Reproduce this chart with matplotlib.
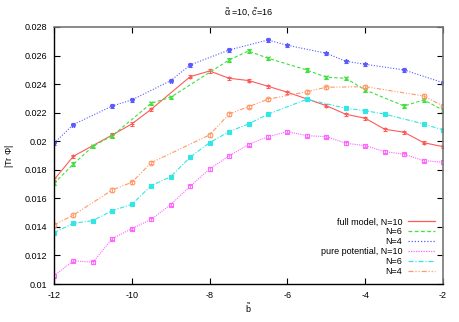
import matplotlib
matplotlib.use('Agg')
import matplotlib.pyplot as plt
from matplotlib.lines import Line2D

plt.rcParams['font.family'] = ['Liberation Sans', 'DejaVu Sans']
plt.rcParams['font.size'] = 6.5
plt.rcParams['mathtext.fontset'] = 'custom'
plt.rcParams['mathtext.rm'] = 'Liberation Sans'
plt.rcParams['mathtext.it'] = 'Liberation Sans'

# full model
b_full10 = [-12, -11.5, -10.5, -10, -9.5, -8.5, -8, -7.5, -7, -6.5, -6, -5, -4.5, -4, -3.5, -3, -2.5, -2]
tr_full10 = [0.0173, 0.01895, 0.02044, 0.02121, 0.02224, 0.02452, 0.02492, 0.02441, 0.02425,
             0.02385, 0.02343, 0.02249, 0.02189, 0.02161, 0.02084, 0.02063, 0.0199, 0.01962]
b_full6 = [-12, -11.5, -11, -10.5, -9.5, -9, -7.5, -7, -6.5, -5.5, -5, -4.5, -4, -3, -2.5, -2]
tr_full6 = [0.01705, 0.0184, 0.01965, 0.02038, 0.02266, 0.02308, 0.02569, 0.02632, 0.02581,
            0.02499, 0.02448, 0.02441, 0.02359, 0.02247, 0.02289, 0.02219]
b_full4 = [-12, -11.5, -10.5, -10, -9, -8.5, -7.5, -6.5, -6, -5, -4.5, -4, -3, -2]
tr_full4 = [0.01986, 0.02117, 0.02247, 0.02289, 0.02424, 0.02534, 0.02639, 0.02709, 0.02672,
            0.02616, 0.0256, 0.02539, 0.02499, 0.0241]

# pure potential
b_pure10 = [-12, -11.5, -11, -10.5, -10, -9.5, -9, -8.5, -8, -7.5, -7, -6.5, -6, -5.5, -5, -4.5, -4, -3.5, -3, -2.5, -2]
tr_pure10 = [0.01058, 0.01163, 0.01152, 0.01318, 0.01388, 0.01453, 0.01556, 0.01684, 0.01806,
             0.01897, 0.01977, 0.02032, 0.02067, 0.02039, 0.02032, 0.01986, 0.01969, 0.01927,
             0.01909, 0.01864, 0.01853]
b_pure6 = [-12, -11.5, -11, -10.5, -10, -9.5, -9, -8.5, -8, -7.5, -7, -6.5, -5.5, -4.5, -4, -3.5, -2.5, -2]
tr_pure6 = [0.0136, 0.01425, 0.01444, 0.01514, 0.01558, 0.01689, 0.01752, 0.01888, 0.0199,
            0.02067, 0.02121, 0.02189, 0.02294, 0.02231, 0.02214, 0.0219, 0.02121, 0.02079]
b_pure4 = [-12, -11.5, -10.5, -10, -9.5, -8, -7.5, -7, -6.5, -5.5, -5, -4, -2.5, -2]
tr_pure4 = [0.01414, 0.01483, 0.01659, 0.01712, 0.0185, 0.02044, 0.0219, 0.02242, 0.02294,
            0.02347, 0.02378, 0.02382, 0.02317, 0.02247]

err = 0.00012

fig = plt.figure(figsize=(4.59, 3.22), dpi=100)
ax = fig.add_axes([54 / 459, 1 - 284 / 322, (443 - 54) / 459, (284 - 27) / 322])

series = [
    (b_full10, tr_full10, 'full model, N=10', '#ff5a5a', '-', '+', 'full'),
    (b_full6, tr_full6, 'N=6', '#3ee03e', (0, (3, 2)), 'x', 'full'),
    (b_full4, tr_full4, 'N=4', '#5a5aff', (0, (1, 1.5)), '*', 'full'),
    (b_pure10, tr_pure10, 'pure potential, N=10', '#ff66ff', (0, (1, 1)), 's', 'none'),
    (b_pure6, tr_pure6, 'N=6', '#33e6e6', (0, (4, 1.5, 1, 1.5)), 's', 'full'),
    (b_pure4, tr_pure4, 'N=4', '#ff9966', (0, (4, 1.5, 1, 1.5, 1, 1.5)), 'o', 'none'),
]

handles = []
labels = []
for b, tr, lab, col, ls, mk, fill in series:
    ax.errorbar(b, tr, yerr=err, color=col, linestyle=ls, linewidth=0.8,
                marker=mk, markersize=3.4, markerfacecolor=col if fill == 'full' else 'none',
                markeredgewidth=0.8, capsize=1.5, elinewidth=0.6)
    handles.append(Line2D([], [], color=col, linestyle=ls, linewidth=0.9))
    labels.append(lab)

ax.set_xlim(-12, -2)
ax.set_ylim(0.01, 0.028)
ax.set_xticks([-12, -10, -8, -6, -4, -2])
ax.set_xticklabels(['-12', '-10', '-8', '-6', '-4', '-2'])
ax.set_yticks([0.01, 0.012, 0.014, 0.016, 0.018, 0.02, 0.022, 0.024, 0.026, 0.028])
ax.set_yticklabels(['0.01', '0.012', '0.014', '0.016', '0.018', '0.02', '0.022', '0.024', '0.026', '0.028'])
ax.tick_params(direction='in', top=True, right=True, length=4, width=0.8, pad=5)
for side in ['left', 'bottom']:
    ax.spines[side].set_color('black')
    ax.spines[side].set_linewidth(1.0)
for side in ['top', 'right']:
    ax.spines[side].set_color('#777777')
    ax.spines[side].set_linewidth(1.2)

ax.set_title(r'$\tilde{\alpha}$ =10, $\tilde{c}$=16', fontsize=6.5, pad=8)
ax.set_xlabel(r'$\tilde{b}$', labelpad=1)
ax.set_ylabel(r'|Tr $\Phi$|', labelpad=6)

ax.legend(handles, labels, loc='lower right', frameon=False, markerfirst=False,
          handlelength=3.0, handletextpad=0.6, labelspacing=0.1, fontsize=6.5,
          borderaxespad=0.5)

fig.savefig('out.png', dpi=100)
